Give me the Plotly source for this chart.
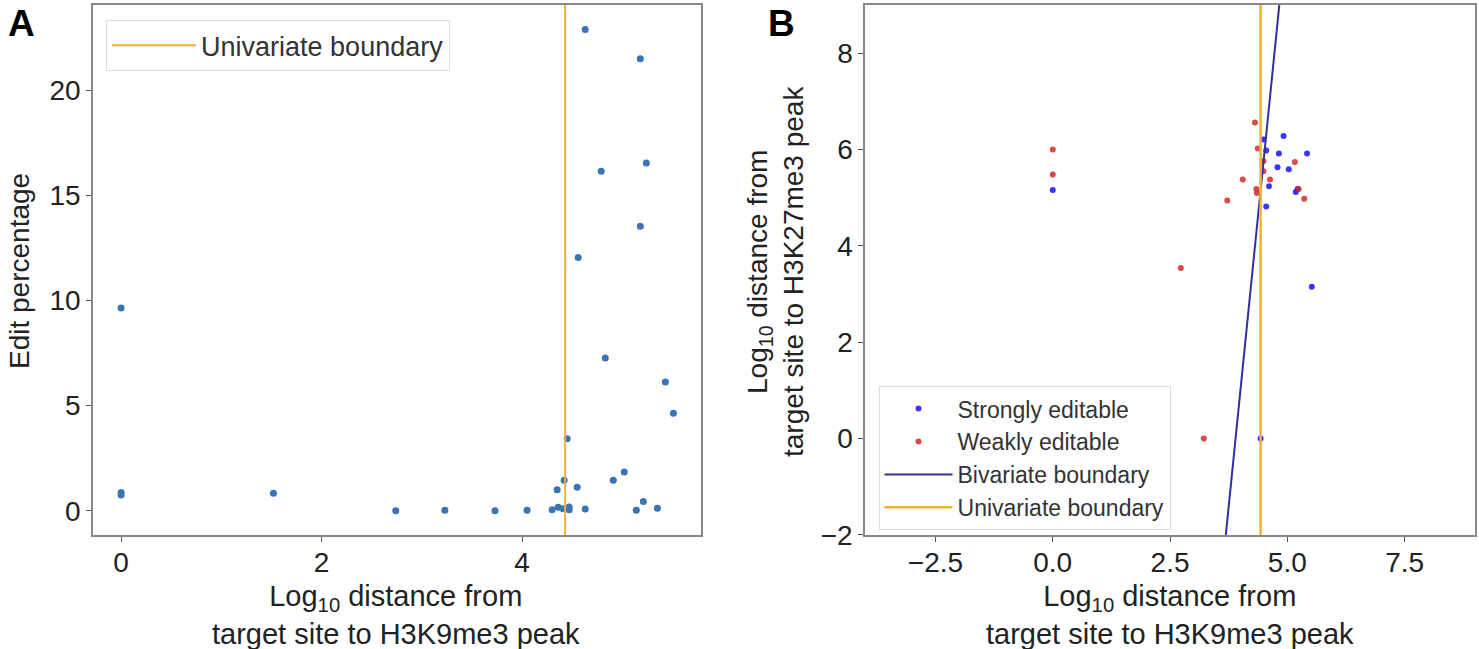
import plotly.graph_objects as go

# Panel A: edit percentage vs log10 distance to H3K9me3 peak
a_x = [0, 0, 0, 1.52, 2.74, 3.23, 3.73, 4.05, 4.30, 4.35, 4.36, 4.41, 4.42, 4.45,
       4.47, 4.47, 4.55, 4.56, 4.63, 4.63, 4.79, 4.83, 4.91, 5.02, 5.14, 5.18,
       5.18, 5.21, 5.24, 5.35, 5.43, 5.51]
a_y = [9.64, 0.87, 0.75, 0.83, 0.0, 0.02, 0.0, 0.03, 0.05, 1.0, 0.17, 0.10, 1.45, 3.43,
       0.18, 0.05, 1.12, 12.04, 0.08, 22.89, 16.15, 7.26, 1.45, 1.85, 0.03, 21.49,
       13.53, 0.44, 16.54, 0.12, 6.12, 4.64]

# Panel B: H3K9me3 distance vs H3K27me3 distance
strong_x = [0, 4.43, 4.49, 4.55, 4.82, 4.92, 5.42, 4.79, 5.03, 4.61, 5.18, 5.22, 4.55, 5.52]
strong_y = [5.16, 0, 6.21, 5.98, 5.92, 6.28, 5.92, 5.63, 5.59, 5.24, 5.12, 5.18, 4.82, 3.15]
weak_x = [0, 0, 2.73, 3.22, 3.72, 4.05, 4.31, 4.34, 4.35, 4.37, 4.49, 4.49, 4.63, 5.16, 5.24, 5.36]
weak_y = [6.0, 5.48, 3.54, 0, 4.94, 5.38, 6.56, 5.18, 5.10, 6.02, 5.76, 5.55, 5.38, 5.74, 5.18, 4.98]

univariate_boundary = 4.43
bivariate_slope = 9.65
bivariate_intercept = -37.6

a_xrange = [-0.28, 5.79]
a_yrange = [-1.15, 24.05]
b_xrange = [-4, 9]
b_yrange = [-2, 9]

blue_a = "#3a74b4"
orange = "#f0b233"
navy = "#30309c"

fig = go.Figure()

fig.add_trace(go.Scatter(x=a_x, y=a_y, mode="markers", showlegend=False,
                         marker=dict(color=blue_a, size=7), xaxis="x", yaxis="y"))
fig.add_trace(go.Scatter(x=[univariate_boundary] * 2, y=a_yrange, mode="lines",
                         name="Univariate boundary", line=dict(color=orange, width=2),
                         xaxis="x", yaxis="y", legend="legend"))

fig.add_trace(go.Scatter(x=strong_x, y=strong_y, mode="markers", name="Strongly editable",
                         marker=dict(color="rgba(20,20,250,0.85)", size=6),
                         xaxis="x2", yaxis="y2", legend="legend2"))
fig.add_trace(go.Scatter(x=weak_x, y=weak_y, mode="markers", name="Weakly editable",
                         marker=dict(color="rgba(212,40,40,0.85)", size=6),
                         xaxis="x2", yaxis="y2", legend="legend2"))
biv_x = [(yv - bivariate_intercept) / bivariate_slope for yv in b_yrange]
fig.add_trace(go.Scatter(x=biv_x, y=b_yrange, mode="lines", name="Bivariate boundary",
                         line=dict(color=navy, width=2), xaxis="x2", yaxis="y2",
                         legend="legend2"))
fig.add_trace(go.Scatter(x=[univariate_boundary] * 2, y=b_yrange, mode="lines",
                         name="Univariate boundary", line=dict(color=orange, width=2.5),
                         xaxis="x2", yaxis="y2", legend="legend2"))

axis_style = dict(showline=True, mirror=True, linecolor="#888", linewidth=1.5,
                  ticks="outside", ticklen=5, tickcolor="#555", showgrid=False,
                  zeroline=False, automargin=False,
                  tickfont=dict(size=28, color="#222"))

H = 649.0


def label(text, x_px, y_px, size=29, angle=0):
    # axis title placed in pixel terms
    return dict(text=text, x=x_px / 1479.0, y=1 - y_px / H, xref="paper", yref="paper",
                xanchor="center", yanchor="middle", showarrow=False, textangle=angle,
                font=dict(size=size, color="#222"))


x_title = "Log<sub>10</sub> distance from<br>target site to H3K9me3 peak"
annotations = [
    dict(text="<b>A</b>", x=0.004, y=0.998, xref="paper", yref="paper",
         xanchor="left", yanchor="top", showarrow=False, font=dict(size=37, color="black")),
    dict(text="<b>B</b>", x=0.518, y=0.998, xref="paper", yref="paper",
         xanchor="left", yanchor="top", showarrow=False, font=dict(size=37, color="black")),
    label(x_title, 396, 615),
    label("Edit percentage", 19, 271, size=28, angle=-90),
    label(x_title, 1170, 615),
    label("Log<sub>10</sub> distance from<br>target site to H3K27me3 peak", 775, 272,
          size=28, angle=-90),
]

fig.update_layout(
    width=1479, height=649,
    margin=dict(l=0, r=0, t=0, b=0),
    paper_bgcolor="white", plot_bgcolor="white",
    font=dict(family="Liberation Sans, Arial, sans-serif", color="#222"),
    xaxis=dict(domain=[0.0629, 0.4743], range=a_xrange, tickvals=[0, 2, 4],
               ticklabelstandoff=-3, **axis_style),
    yaxis=dict(domain=[0.1757, 0.9923], range=a_yrange, tickvals=[0, 5, 10, 15, 20],
               **axis_style),
    xaxis2=dict(domain=[0.5849, 0.9973], range=b_xrange, tickvals=[-2.5, 0, 2.5, 5, 7.5],
                tickformat=".1f", anchor="y2", ticklabelstandoff=-3, **axis_style),
    yaxis2=dict(domain=[0.1757, 0.9923], range=b_yrange, tickvals=[-2, 0, 2, 4, 6, 8],
                anchor="x2", **axis_style),
    legend=dict(x=0.0717, y=0.969, xanchor="left", yanchor="top",
                bgcolor="white", bordercolor="#ddd", borderwidth=1,
                itemwidth=84, font=dict(size=27, color="#333")),
    legend2=dict(x=0.594, y=0.405, xanchor="left", yanchor="top",
                 bgcolor="white", bordercolor="#ddd", borderwidth=1,
                 itemwidth=68, font=dict(size=23, color="#333")),
    annotations=annotations,
)

fig.write_html("out.html", config={"displayModeBar": False},
               post_script="document.body.style.margin='0';")
